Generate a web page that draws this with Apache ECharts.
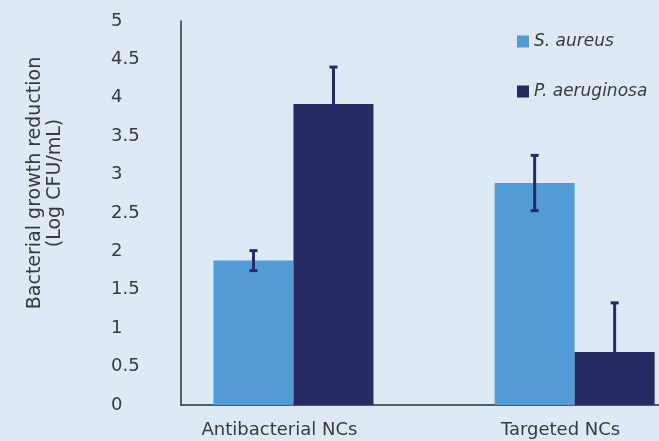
<!DOCTYPE html>
<html>
<head>
<meta charset="utf-8">
<script src="https://cdn.jsdelivr.net/npm/echarts@6/dist/echarts.min.js"></script>
<style>
html,body{margin:0;padding:0;background:#dde9f5;}
#chart{width:659px;height:441px;}
</style>
</head>
<body>
<div id="chart"></div>
<script>
var categories = ['Antibacterial NCs', 'Targeted NCs'];
var seriesNames = ['S. aureus', 'P. aeruginosa'];
var sAureus = [1.88, 2.89];
var sAureusErr = [0.13, 0.36];
var pAeruginosa = [3.92, 0.69];
var pAeruginosaErr = [0.48, 0.64];
var yTicks = [0, 0.5, 1, 1.5, 2, 2.5, 3, 3.5, 4, 4.5, 5];

var colors = ['#529bd5', '#282a64'];
var errColor = '#262a68';
var textColor = '#3a3a3a';
var font = '"DejaVu Sans", sans-serif';

function pts(vals) { return vals.map(function (v, i) { return [i, v]; }); }
function errData(vals, errs) { return vals.map(function (v, i) { return [i, v - errs[i], v + errs[i]]; }); }

function errRender(offsetPx) {
  return function (params, api) {
    var x = api.value(0);
    var lo = api.coord([x, api.value(1)]);
    var hi = api.coord([x, api.value(2)]);
    var cx = lo[0] + offsetPx;
    var cap = 4;
    var st = { stroke: errColor, lineWidth: 3 };
    return {
      type: 'group',
      children: [
        { type: 'line', shape: { x1: cx, y1: lo[1], x2: cx, y2: hi[1] }, style: st },
        { type: 'line', shape: { x1: cx - cap, y1: lo[1], x2: cx + cap, y2: lo[1] }, style: st },
        { type: 'line', shape: { x1: cx - cap, y1: hi[1], x2: cx + cap, y2: hi[1] }, style: st }
      ]
    };
  };
}

var chart = echarts.init(document.getElementById('chart'));
chart.setOption({
  backgroundColor: '#dde9f5',
  animation: false,
  grid: { left: 181, right: 0, top: 21, bottom: 36, containLabel: false },
  legend: {
    orient: 'vertical',
    left: 512,
    top: 28,
    itemGap: 33,
    itemWidth: 12,
    itemHeight: 12,
    icon: 'rect',
    data: seriesNames,
    textStyle: { fontFamily: font, fontSize: 17, fontStyle: 'italic', color: textColor }
  },
  xAxis: {
    type: 'value',
    min: -0.4,
    max: 1.3,
    splitLine: { show: false },
    axisLine: { show: true, onZero: false, lineStyle: { color: '#2e2e2e', width: 1.5 } },
    axisTick: { show: false },
    axisLabel: {
      customValues: [-0.05, 0.95],
      formatter: function (v) { return categories[Math.round(v + 0.05)]; },
      margin: 16,
      fontFamily: font,
      fontSize: 18,
      color: textColor
    }
  },
  yAxis: {
    type: 'value',
    min: 0,
    max: 5,
    interval: 0.5,
    name: 'Bacterial growth reduction\n(Log CFU/mL)',
    nameLocation: 'middle',
    nameGap: 116,
    nameTextStyle: { fontFamily: font, fontSize: 19, lineHeight: 20, color: textColor, padding: [0, 0, 0, 60] },
    splitLine: { show: false },
    axisLine: { show: true, onZero: false, lineStyle: { color: '#2e2e2e', width: 1.5 } },
    axisTick: { show: false },
    axisLabel: {
      margin: 70,
      align: 'left',
      fontFamily: font,
      fontSize: 18,
      color: textColor,
      padding: [5, 0, 0, 0],
      formatter: function (v) { return String(v); }
    }
  },
  series: [
    {
      name: seriesNames[0], type: 'bar', data: pts(sAureus),
      barWidth: 80, barGap: '0%', itemStyle: { color: colors[0] }
    },
    {
      name: seriesNames[1], type: 'bar', data: pts(pAeruginosa),
      barWidth: 80, barGap: '0%', itemStyle: { color: colors[1] }
    },
    {
      type: 'custom', data: errData(sAureus, sAureusErr), renderItem: errRender(-40), z: 10,
      encode: { x: 0, y: [1, 2] }
    },
    {
      type: 'custom', data: errData(pAeruginosa, pAeruginosaErr), renderItem: errRender(40), z: 10,
      encode: { x: 0, y: [1, 2] }
    }
  ]
});
</script>
</body>
</html>
